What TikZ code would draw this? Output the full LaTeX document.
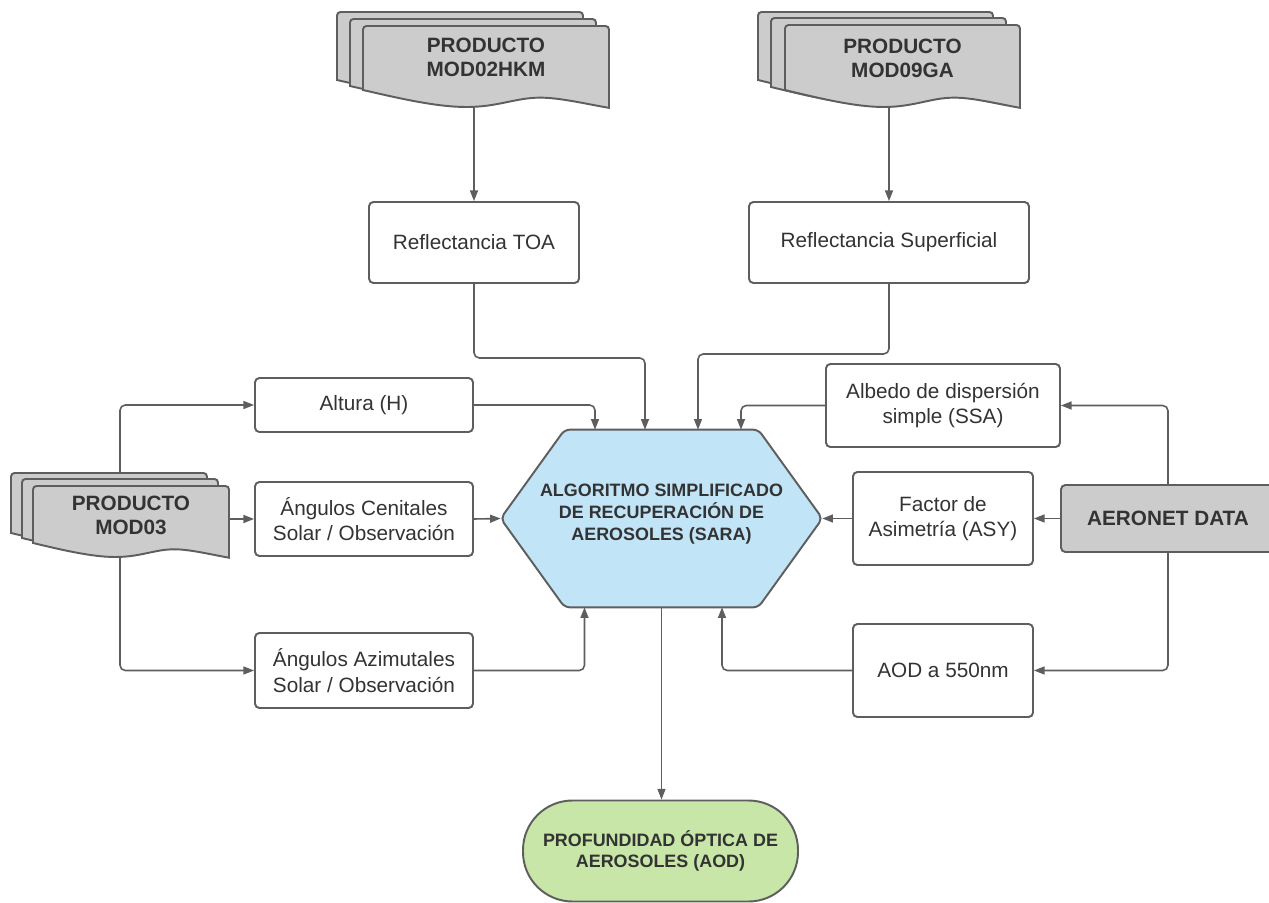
\documentclass[tikz,border=0pt]{standalone}
\usepackage{fontspec}
\setmainfont{Liberation Sans}
\usetikzlibrary{arrows.meta,calc}
\definecolor{linec}{HTML}{5E5E5E}
\definecolor{txtc}{HTML}{333333}
\definecolor{grayf}{HTML}{CCCCCC}
\definecolor{bluef}{HTML}{C1E4F7}
\definecolor{greenf}{HTML}{C7E6A7}
\tikzset{
 box/.style={draw=linec, line width=1.1pt, rounded corners=2.5pt, fill=white, text=txtc, font=\fontsize{11.8}{14.4}\selectfont, align=center, inner sep=0pt},
 sz/.style 2 args={minimum width=#1*0.02cm, minimum height=#2*0.02cm},
 conn/.style={draw=linec, line width=0.9pt, rounded corners=3pt},
 arr/.style={conn, -{Triangle[length=6pt,width=4.5pt]}},
 sheet/.style={fill=grayf, draw=linec, line width=1.1pt},
 bigb/.style={text=txtc, font=\fontsize{11.8}{13.6}\selectfont\bfseries, align=center, inner sep=0pt},
 smallb/.style={text=txtc, font=\fontsize{10.2}{12.4}\selectfont\bfseries, align=center, inner sep=0pt},
}
% x0 y0 w hL a
\newcommand\docsheet[5]{%
  \filldraw[sheet] (#1,#2+#4) [rounded corners=2pt] -- (#1,#2) -- (#1+#3,#2) [sharp corners] -- (#1+#3,#2+#4+1.05*#5)
   .. controls (#1+0.9*#3,#2+#4+0.8*#5) and (#1+0.8*#3,#2+#4+0.45*#5) .. (#1+0.72*#3,#2+#4+0.45*#5)
   .. controls (#1+0.62*#3,#2+#4+0.45*#5) and (#1+0.55*#3,#2+#4+#5) .. (#1+0.42*#3,#2+#4+#5)
   .. controls (#1+0.3*#3,#2+#4+#5) and (#1+0.15*#3,#2+#4+0.5*#5) .. (#1,#2+#4) -- cycle;}
\begin{document}
\begin{tikzpicture}[x=0.02cm,y=-0.02cm]
\useasboundingbox[fill=white] (0,0) rectangle (1269,903);
% document stacks
\docsheet{337}{12}{246}{68}{17}
\docsheet{350}{19}{246}{67}{17}
\docsheet{363}{26}{246}{64}{17}
\node[bigb] (d1) at (486,57) {PRODUCTO\\MOD02HKM};
\coordinate (d1b) at (474,106);
\docsheet{758}{12}{235}{68}{17}
\docsheet{771}{18}{235}{69}{17}
\docsheet{785}{25}{235}{65}{17}
\node[bigb] (d2) at (902.5,58) {PRODUCTO\\MOD09GA};
\coordinate (d2b) at (889,106);
\docsheet{11}{473}{196}{60}{14}
\docsheet{22}{479}{196}{59}{14}
\docsheet{33}{486}{196}{57}{14}
\node[bigb] (d3) at (131,515.5) {PRODUCTO\\MOD03};
\coordinate (m3t) at (120,473);
\coordinate (m3b) at (120,557);
\coordinate (m3r) at (229,519);
% boxes
\node[box, sz={210}{81}] (toa) at (474,242.5) {Reflectancia TOA};
\node[box, sz={280}{81}] (sup) at (889,242.5) {Reflectancia Superficial};
\node[box, sz={218}{54}] (alt) at (364,405) {Altura (H)};
\node[box, sz={218}{74}] (cen) at (364,519) {Ángulos Cenitales\\Solar / Observación};
\node[box, sz={218}{75}] (azi) at (364,670.5) {Ángulos Azimutales\\Solar / Observación};
\node[box, sz={234}{83}, font=\fontsize{11.8}{14.6}\selectfont] (ssa) at (943,405.5) {Albedo de dispersión\\simple (SSA)};
\node[box, sz={180}{93}] (asy) at (943,518.5) {Factor de\\Asimetría (ASY)};
\node[box, sz={180}{93}] (aod) at (943,670.5) {AOD a 550nm};
\node[box, sz={214}{67}, fill=grayf, bigb] (aer) at (1168,518.5) {AERONET DATA};
% hexagon
\node[sz={321}{177}, inner sep=0pt] (hex) at (661.5,518.5) {};
\filldraw[fill=bluef, draw=linec, line width=1.1pt, rounded corners=3pt]
  (hex.west) -- ($(hex.north west)+(64,0)$) -- ($(hex.north east)+(-64,0)$) -- (hex.east)
  -- ($(hex.south east)+(-64,0)$) -- ($(hex.south west)+(64,0)$) -- cycle;
\node[smallb] (hext) at (661.5,514) {ALGORITMO SIMPLIFICADO\\DE RECUPERACIÓN DE\\AEROSOLES (SARA)};
% output
\node[draw=linec, line width=1.1pt, fill=greenf, rounded corners=0.99cm, sz={275}{101}, inner sep=0pt] (out) at (660.5,851) {};
\node[smallb] (outt) at (660.5,851) {PROFUNDIDAD ÓPTICA DE\\AEROSOLES (AOD)};
% connectors
\draw[arr] (d1b) -- (toa.north);
\draw[arr] (d2b) -- (sup.north);
\draw[arr] (m3t) |- (alt.west);
\draw[arr] (m3r) -- (cen.west |- m3r);
\draw[arr] (m3b) |- (azi.west);
\draw[arr] (alt.east) -| ($(hex.north)+(-66.5,0)$);
\draw[arr] (toa.south) -- ++(0,74) -| ($(hex.north)+(-16.5,0)$);
\draw[arr] (sup.south) -- ++(0,70) -| ($(hex.north)+(36.5,0)$);
\draw[arr] (ssa.west) -| ($(hex.north)+(79.5,0)$);
\draw[arr] (cen.east) -- (hex.west);
\draw[arr] (asy.west) -- (hex.east);
\draw[arr] (azi.east) -| ($(hex.south)+(-77,0)$);
\draw[arr] (aod.west) -| ($(hex.south)+(60.5,0)$);
\draw[arr] (hex.south) -- (hex.south |- out.north);
\draw[arr] (aer.north) |- (ssa.east);
\draw[arr] (aer.west) -- (asy.east);
\draw[arr] (aer.south) |- (aod.east);
\end{tikzpicture}
\end{document}
